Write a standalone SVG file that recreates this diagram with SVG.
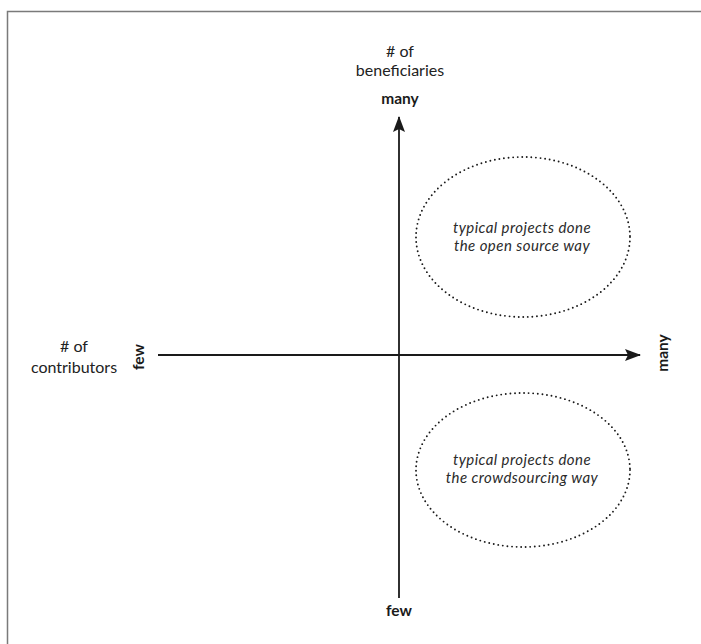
<svg xmlns="http://www.w3.org/2000/svg" width="701" height="644" viewBox="0 0 701 644">
<defs>
<style>
text{font-family:Lato,"Open Sans","Liberation Sans",sans-serif;fill:#222}
.lbl{font-size:16px}
.b{font-size:15.5px;font-weight:bold;fill:#1a1a1a}
.it{font-size:15px;font-style:italic;fill:#2a2a2a;letter-spacing:0.45px}
.axis{stroke:#1a1a1a;stroke-width:1.8;fill:none}
.dot{fill:none;stroke:#1a1a1a;stroke-width:1.9;stroke-dasharray:0 4.6;stroke-linecap:round}
</style>
<marker id="ah" viewBox="0 0 16 12" refX="15" refY="6" markerWidth="16" markerHeight="12" markerUnits="userSpaceOnUse" orient="auto">
<path d="M0,0 L16,6 L0,12 L3,6 Z" fill="#1a1a1a"/>
</marker>
</defs>
<rect width="701" height="644" fill="#fff"/>
<path d="M7.5,644 V11.5 H701" fill="none" stroke="#7a7a7a" stroke-width="1.5"/>
<g id="connectors">
<line class="axis" x1="399" y1="598" x2="399" y2="117" marker-end="url(#ah)"/>
<line class="axis" x1="158" y1="355" x2="640" y2="355" marker-end="url(#ah)"/>
</g>
<g id="y-axis-label">
<text class="lbl" x="400" y="57" text-anchor="middle">#&#160;of</text>
<text class="lbl" x="400" y="76" text-anchor="middle">beneficiaries</text>
<text class="b" x="400" y="104" text-anchor="middle">many</text>
<text class="b" x="399" y="616" text-anchor="middle">few</text>
</g>
<g id="x-axis-label">
<text class="lbl" x="74" y="352" text-anchor="middle">#&#160;of</text>
<text class="lbl" x="74" y="373" text-anchor="middle">contributors</text>
<text class="b" transform="translate(144,357) rotate(-90)" text-anchor="middle">few</text>
<text class="b" transform="translate(668,353) rotate(-90)" text-anchor="middle">many</text>
</g>
<g id="open-source">
<ellipse class="dot" cx="523" cy="237" rx="107" ry="80"/>
<text class="it" x="522" y="233" text-anchor="middle">typical projects done</text>
<text class="it" x="522" y="251" text-anchor="middle">the open source way</text>
</g>
<g id="crowdsourcing">
<ellipse class="dot" cx="523" cy="470" rx="107" ry="77"/>
<text class="it" x="522" y="465" text-anchor="middle">typical projects done</text>
<text class="it" x="522" y="483" text-anchor="middle">the crowdsourcing way</text>
</g>
</svg>
